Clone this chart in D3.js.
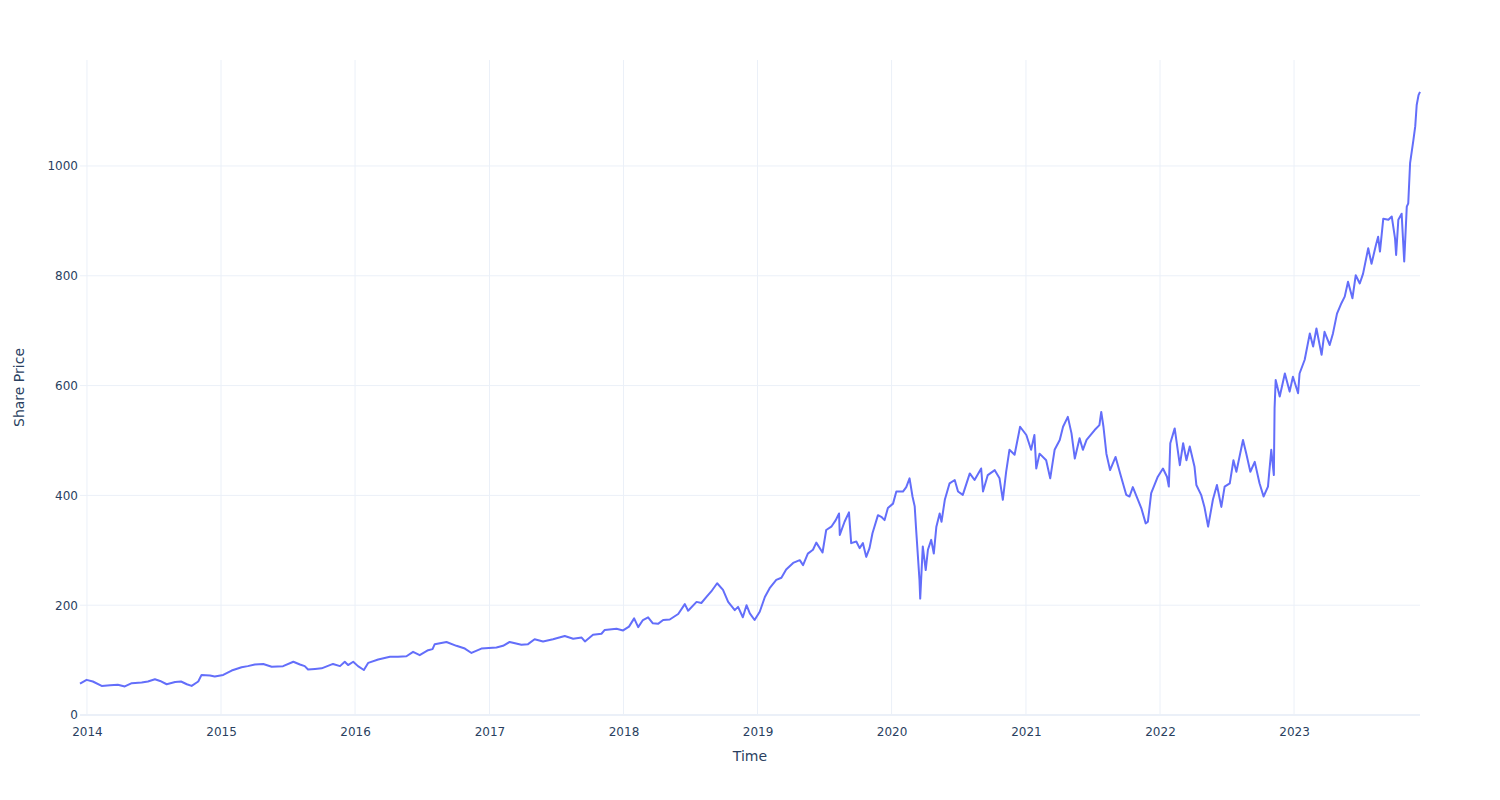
<!DOCTYPE html>
<html>
<head>
<meta charset="utf-8">
<script src="https://cdn.jsdelivr.net/npm/d3@7"></script>
<style>
    html, body { margin: 0; padding: 0; background: #fff; }
    svg { display: block; font-family: "DejaVu Sans", Verdana, Arial, sans-serif; }
</style>
</head>
<body>
<div id="chart"></div>
<script>
// Share price (one row per year)
const dates = [
    '2013-12-13', '2013-12-31',
    '2014-01-17', '2014-02-10', '2014-03-05', '2014-03-26', '2014-04-14', '2014-05-03', '2014-05-30', '2014-06-16', '2014-07-05', '2014-07-19', '2014-08-06', '2014-08-29', '2014-09-14', '2014-09-30', '2014-10-13', '2014-10-31', '2014-11-09', '2014-12-02', '2014-12-15',
    '2015-01-07', '2015-01-30', '2015-02-26', '2015-03-15', '2015-04-03', '2015-04-26', '2015-05-19', '2015-06-19', '2015-07-17', '2015-08-04', '2015-08-17', '2015-08-26', '2015-09-14', '2015-10-02', '2015-11-02', '2015-11-21', '2015-12-04', '2015-12-13', '2015-12-27',
    '2016-01-09', '2016-01-25', '2016-02-06', '2016-03-04', '2016-04-05', '2016-04-27', '2016-05-20', '2016-06-07', '2016-06-25', '2016-07-18', '2016-07-30', '2016-08-05', '2016-09-06', '2016-10-03', '2016-10-26', '2016-11-13', '2016-12-10',
    '2017-01-20', '2017-02-07', '2017-02-25', '2017-03-29', '2017-04-16', '2017-05-04', '2017-05-27', '2017-06-23', '2017-07-25', '2017-08-17', '2017-09-09', '2017-09-18', '2017-10-10', '2017-11-02', '2017-11-11', '2017-12-13', '2017-12-31',
    '2018-01-16', '2018-01-30', '2018-02-10', '2018-02-23', '2018-03-09', '2018-03-22', '2018-04-05', '2018-04-19', '2018-05-07', '2018-05-30', '2018-06-17', '2018-06-26', '2018-07-19', '2018-08-01', '2018-08-15', '2018-08-28', '2018-09-13', '2018-09-29', '2018-10-13', '2018-10-31', '2018-11-09', '2018-11-22', '2018-12-02', '2018-12-11', '2018-12-24',
    '2019-01-07', '2019-01-21', '2019-02-03', '2019-02-21', '2019-03-07', '2019-03-20', '2019-04-08', '2019-04-26', '2019-05-05', '2019-05-18', '2019-06-01', '2019-06-10', '2019-06-27', '2019-07-07', '2019-07-21', '2019-08-02', '2019-08-11', '2019-08-13', '2019-08-26', '2019-09-07', '2019-09-13', '2019-09-27', '2019-10-06', '2019-10-15', '2019-10-24', '2019-11-02', '2019-11-10', '2019-11-25', '2019-12-04', '2019-12-13', '2019-12-22',
    '2020-01-05', '2020-01-14', '2020-02-01', '2020-02-10', '2020-02-19', '2020-02-27', '2020-03-04', '2020-03-08', '2020-03-17', '2020-03-19', '2020-03-26', '2020-04-03', '2020-04-09', '2020-04-18', '2020-04-25', '2020-05-02', '2020-05-11', '2020-05-16', '2020-05-25', '2020-06-07', '2020-06-21', '2020-06-30', '2020-07-13', '2020-08-01', '2020-08-14', '2020-09-01', '2020-09-06', '2020-09-19', '2020-10-08', '2020-10-21', '2020-10-30', '2020-11-08', '2020-11-17', '2020-12-01', '2020-12-16',
    '2021-01-02', '2021-01-15', '2021-01-24', '2021-01-29', '2021-02-07', '2021-02-25', '2021-03-08', '2021-03-20', '2021-04-03', '2021-04-12', '2021-04-25', '2021-05-05', '2021-05-14', '2021-05-27', '2021-06-05', '2021-06-15', '2021-07-07', '2021-07-20', '2021-07-25', '2021-07-31', '2021-08-08', '2021-08-18', '2021-09-02', '2021-09-17', '2021-10-01', '2021-10-10', '2021-10-19', '2021-11-02', '2021-11-11', '2021-11-23', '2021-11-29', '2021-12-08', '2021-12-26',
    '2022-01-09', '2022-01-20', '2022-01-25', '2022-01-29', '2022-02-10', '2022-02-24', '2022-03-05', '2022-03-14', '2022-03-23', '2022-04-05', '2022-04-10', '2022-04-23', '2022-05-02', '2022-05-12', '2022-05-25', '2022-06-05', '2022-06-17', '2022-06-26', '2022-07-10', '2022-07-20', '2022-07-28', '2022-08-15', '2022-08-24', '2022-09-04', '2022-09-16', '2022-09-29', '2022-10-10', '2022-10-22', '2022-10-31', '2022-11-07', '2022-11-09', '2022-11-12', '2022-11-23', '2022-12-07', '2022-12-20', '2022-12-29',
    '2023-01-12', '2023-01-16', '2023-01-30', '2023-02-13', '2023-02-22', '2023-03-03', '2023-03-17', '2023-03-25', '2023-04-08', '2023-04-17', '2023-04-28', '2023-05-10', '2023-05-19', '2023-05-28', '2023-06-09', '2023-06-18', '2023-06-29', '2023-07-08', '2023-07-22', '2023-07-31', '2023-08-12', '2023-08-18', '2023-08-23', '2023-09-01', '2023-09-15', '2023-09-24', '2023-10-03', '2023-10-06', '2023-10-12', '2023-10-21', '2023-10-28', '2023-11-04', '2023-11-08', '2023-11-13', '2023-11-22', '2023-11-27', '2023-12-01', '2023-12-06', '2023-12-10'
];

const prices = [
    57, 64,
    61, 53, 54, 55, 52, 58, 59, 61, 65, 62, 56, 60, 61, 56, 53, 61, 73, 72, 70,
    73, 81, 87, 89, 92, 93, 88, 89, 97, 92, 89, 83, 84, 85, 93, 89, 97, 91, 97,
    89, 82, 95, 101, 106, 106, 107, 115, 109, 118, 120, 129, 133, 126, 121, 113, 121,
    123, 126, 133, 128, 129, 138, 134, 138, 144, 139, 141, 134, 146, 148, 155, 157, 154,
    161, 176, 160, 173, 178, 167, 166, 173, 174, 184, 202, 190, 206, 204, 215, 225, 240, 228, 206, 191, 197, 178, 200, 185, 173,
    188, 215, 231, 246, 250, 265, 277, 282, 273, 294, 301, 314, 296, 337, 343, 355, 367, 328, 352, 369, 313, 316, 304, 313, 288, 304, 331, 364, 361, 355, 377,
    385, 407, 407, 415, 431, 398, 380, 337, 246, 212, 307, 264, 301, 319, 294, 343, 367, 352, 392, 422, 428, 407, 401, 440, 428, 449, 407, 437, 446, 431, 392, 443, 483, 474, 525,
    510, 483, 510, 449, 476, 464, 431, 483, 501, 525, 543, 513, 467, 504, 483, 501, 519, 528, 552, 525, 476, 446, 470, 434, 401, 398, 415, 392, 377, 349, 352, 404, 434,
    449, 434, 416, 495, 522, 455, 495, 464, 489, 452, 419, 401, 379, 343, 392, 419, 379, 416, 422, 464, 443, 501, 476, 443, 461, 422, 398, 416, 483, 437, 559, 610, 580, 622, 589, 616,
    586, 622, 647, 695, 671, 704, 656, 698, 674, 695, 731, 750, 762, 789, 759, 801, 786, 804, 850, 822, 856, 871, 844, 904, 902, 908, 868, 838, 902, 913, 826, 926, 932, 1005, 1047, 1072, 1111, 1129, 1135
];

const yTicks = [0, 200, 400, 600, 800, 1000];
const yMax = 1193;
const xTitle = 'Time';
const yTitle = 'Share Price';

const width = 1500;
const height = 800;
const margin = {top: 60, right: 80, bottom: 85, left: 80};
const innerW = width - margin.left - margin.right;
const innerH = height - margin.top - margin.bottom;

const parse = d3.utcParse('%Y-%m-%d');
const data = dates.map((d, i) => ({date: parse(d), price: prices[i]}));

const svg = d3.select('#chart')
    .append('svg')
    .attr('width', width)
    .attr('height', height);

const g = svg.append('g')
    .attr('transform', `translate(${margin.left},${margin.top})`);

// Scales
const x = d3.scaleUtc()
    .domain(d3.extent(data, d => d.date))
    .range([0, innerW]);

const y = d3.scaleLinear()
    .domain([0, yMax])
    .range([innerH, 0]);

const gridColor = '#ebf0f8';
const textColor = '#2a3f5f';

// Vertical grid (years)
const xTicks = x.ticks(d3.utcYear.every(1));
g.append('g')
    .selectAll('line')
    .data(xTicks)
    .enter()
    .append('line')
    .attr('x1', d => x(d))
    .attr('x2', d => x(d))
    .attr('y1', 0)
    .attr('y2', innerH)
    .attr('stroke', gridColor)
    .attr('stroke-width', 1);

// Horizontal grid
g.append('g')
    .selectAll('line')
    .data(yTicks.filter(t => t > 0))
    .enter()
    .append('line')
    .attr('x1', 0)
    .attr('x2', innerW)
    .attr('y1', d => y(d))
    .attr('y2', d => y(d))
    .attr('stroke', gridColor)
    .attr('stroke-width', 1);

// Zero line
g.append('line')
    .attr('x1', 0)
    .attr('x2', innerW)
    .attr('y1', y(0))
    .attr('y2', y(0))
    .attr('stroke', gridColor)
    .attr('stroke-width', 2);

// Axes
const xAxis = g.append('g')
    .attr('transform', `translate(0,${innerH})`)
    .call(d3.axisBottom(x).tickValues(xTicks).tickFormat(d3.utcFormat('%Y')).tickSize(0).tickPadding(12));

const yAxis = g.append('g')
    .call(d3.axisLeft(y).tickValues(yTicks).tickFormat(d3.format('d')).tickSize(0).tickPadding(2));

[xAxis, yAxis].forEach(ax => {
    ax.select('.domain').remove();
    ax.selectAll('text')
        .style('font-family', '"DejaVu Sans", Verdana, Arial, sans-serif')
        .style('font-size', '12px')
        .attr('fill', textColor);
});

// Price line
const line = d3.line()
    .x(d => x(d.date))
    .y(d => y(d.price));

g.append('path')
    .datum(data)
    .attr('fill', 'none')
    .attr('stroke', '#636efa')
    .attr('stroke-width', 2)
    .attr('stroke-linejoin', 'round')
    .attr('d', line);

// Axis titles
svg.append('text')
    .attr('x', margin.left + innerW / 2)
    .attr('y', 761)
    .attr('text-anchor', 'middle')
    .style('font-size', '14px')
    .attr('fill', textColor)
    .text(xTitle);

svg.append('text')
    .attr('transform', `translate(24,${margin.top + innerH / 2}) rotate(-90)`)
    .attr('text-anchor', 'middle')
    .style('font-size', '14px')
    .attr('fill', textColor)
    .text(yTitle);
</script>
</body>
</html>
